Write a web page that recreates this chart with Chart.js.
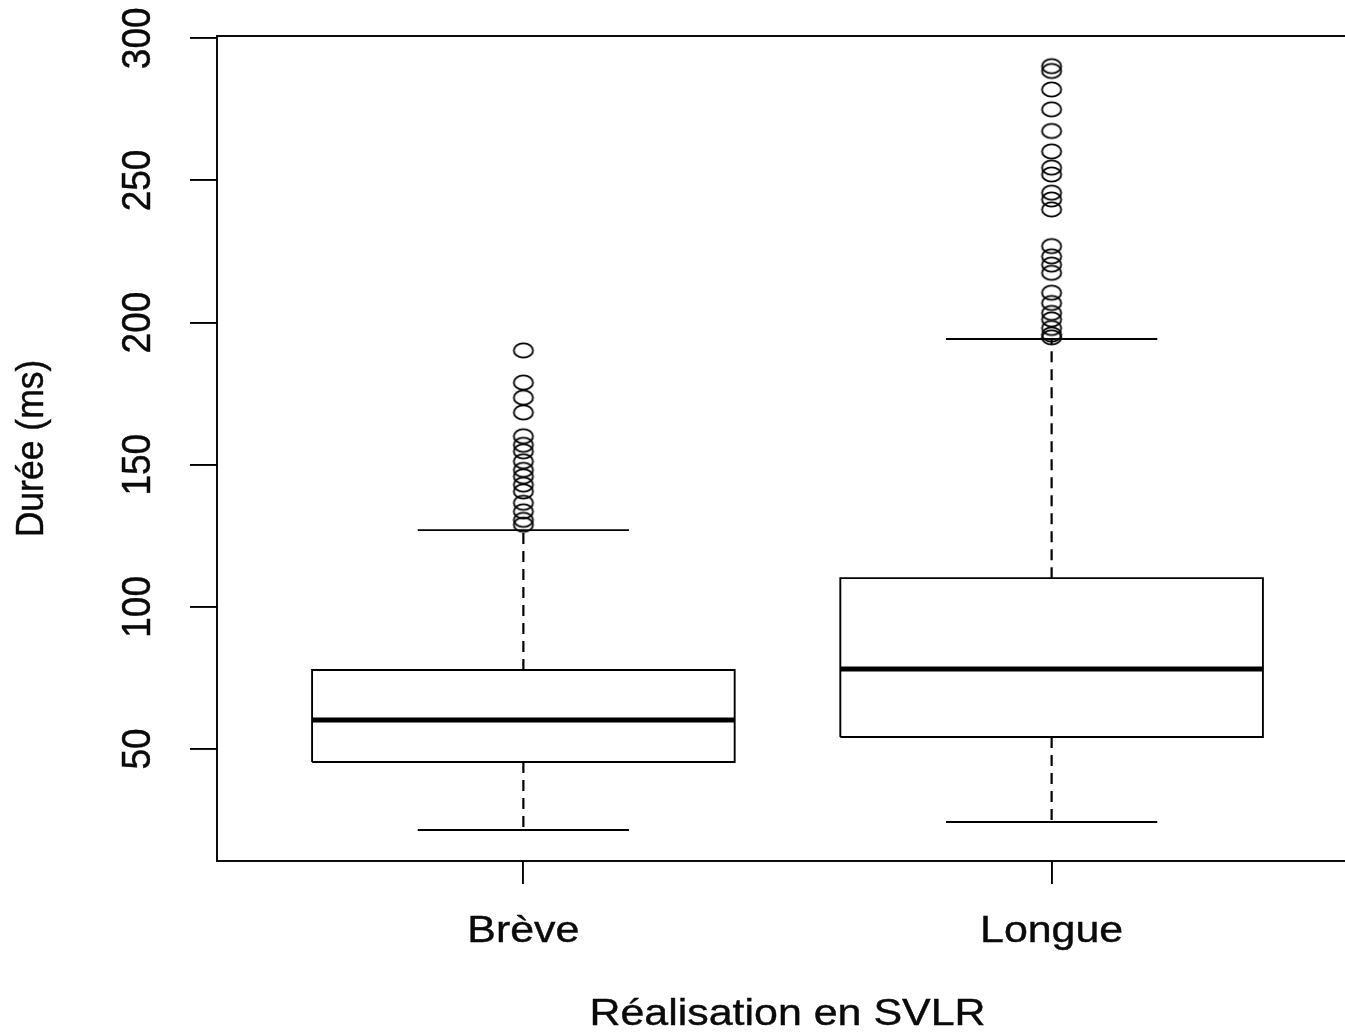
<!DOCTYPE html>
<html>
<head>
<meta charset="utf-8">
<script src="https://cdn.jsdelivr.net/npm/chart.js@4/dist/chart.umd.min.js"></script>
<style>
  html, body { margin: 0; padding: 0; background: #fff; overflow: hidden; }
  #wrap { width: 1400px; height: 1032px; }
</style>
</head>
<body>
<div id="wrap"><canvas id="c" width="1400" height="1032"></canvas></div>
<script>
// ---- data ----
const categories = ['Brève', 'Longue'];
const lowWhisker = [21.5, 24.3];
const q1 = [45.4, 54.2];
const median = [60.2, 78.1];
const q3 = [77.8, 110.1];
const highWhisker = [127.0, 194.2];
const outliersBreve = [190.2, 178.9, 173.6, 168.4, 160.0, 157.0, 154.7, 151.2, 148.2, 145.9, 143.0, 140.6, 136.6, 133.6, 130.6, 128.9];
const outliersLongue = [290.2, 288.5, 282.0, 275.0, 267.4, 260.2, 254.5, 252.1, 245.7, 243.3, 239.8, 226.9, 223.3, 220.4, 217.5, 210.5, 206.9, 203.4, 201.1, 198.1, 195.8, 194.8];
const outliers = [outliersBreve, outliersLongue];
const yTicks = [50, 100, 150, 200, 250, 300];
const xTitle = 'Réalisation en SVLR';
const yTitle = 'Durée (ms)';

// ---- style constants ----
const BOX_HALF = 0.4, CAP_HALF = 0.2;
const INK = '#000';
const TEXT_INK = '#0a0a0a';
const FONT = '37px "Liberation Sans", Arial, sans-serif';
const SX = 1.16;
const LW = 1.9;

// hollow (slightly elliptic) point marker
const marker = document.createElement('canvas');
marker.width = 26; marker.height = 19;
(function () {
  const m = marker.getContext('2d');
  m.strokeStyle = INK; m.lineWidth = 1.8;
  m.beginPath(); m.ellipse(13, 9.5, 9.6, 7.2, 0, 0, Math.PI * 2); m.stroke();
})();

const datasets = [];
categories.forEach((c, i) => {
  const x = i + 1;
  const line = (data, extra) => Object.assign({
    data, showLine: true, borderColor: INK, borderWidth: LW, pointRadius: 0,
    fill: false, tension: 0
  }, extra || {});
  // box
  datasets.push(line([
    {x: x - BOX_HALF, y: q1[i]}, {x: x + BOX_HALF, y: q1[i]},
    {x: x + BOX_HALF, y: q3[i]}, {x: x - BOX_HALF, y: q3[i]},
    {x: x - BOX_HALF, y: q1[i]}
  ]));
  // median
  datasets.push(line([{x: x - BOX_HALF, y: median[i]}, {x: x + BOX_HALF, y: median[i]}], {borderWidth: 5, borderCapStyle: 'butt'}));
  // whiskers (dashed)
  datasets.push(line([{x: x, y: q3[i]}, {x: x, y: highWhisker[i]}], {borderDash: [11, 7], borderWidth: 2.2}));
  datasets.push(line([{x: x, y: q1[i]}, {x: x, y: lowWhisker[i]}], {borderDash: [11, 7], borderWidth: 2.2}));
  // caps
  datasets.push(line([{x: x - CAP_HALF, y: highWhisker[i]}, {x: x + CAP_HALF, y: highWhisker[i]}]));
  datasets.push(line([{x: x - CAP_HALF, y: lowWhisker[i]}, {x: x + CAP_HALF, y: lowWhisker[i]}]));
  // outliers
  datasets.push({
    data: outliers[i].map(v => ({x: x, y: v})),
    showLine: false, pointStyle: marker, pointRadius: 9, borderWidth: 0
  });
});

const framePlugin = {
  id: 'frame',
  beforeDatasetsDraw(chart) {
    const {ctx, chartArea: a} = chart;
    ctx.save();
    ctx.strokeStyle = INK; ctx.lineWidth = LW;
    ctx.strokeRect(a.left, a.top, a.right - a.left, a.bottom - a.top);
    ctx.restore();
  },
  afterDraw(chart) {
    const {ctx, chartArea: a} = chart;
    const xs = chart.scales.x, ys = chart.scales.y;
    ctx.save();
    ctx.fillStyle = TEXT_INK;
    ctx.strokeStyle = TEXT_INK;
    ctx.lineWidth = 0.4;
    ctx.font = FONT;
    const put = (txt) => { ctx.fillText(txt, 0, 0); ctx.strokeText(txt, 0, 0); };
    // x tick labels
    ctx.textAlign = 'center'; ctx.textBaseline = 'alphabetic';
    xs.ticks.forEach(t => {
      const px = xs.getPixelForValue(t.value);
      ctx.save(); ctx.translate(px, 942); ctx.scale(SX, 1);
      put(categories[t.value - 1]); ctx.restore();
    });
    // x title
    ctx.save(); ctx.translate((a.left + a.right) / 2, 1025); ctx.scale(SX, 1);
    put(xTitle); ctx.restore();
    // y tick labels (rotated)
    ctx.textBaseline = 'middle';
    ys.ticks.forEach(t => {
      const py = ys.getPixelForValue(t.value);
      ctx.save(); ctx.translate(139, py); ctx.rotate(-Math.PI / 2); ctx.scale(1, 1.1);
      put(String(t.value)); ctx.restore();
    });
    // y title
    ctx.textBaseline = 'alphabetic';
    ctx.save(); ctx.translate(43, (a.top + a.bottom) / 2); ctx.rotate(-Math.PI / 2); ctx.scale(0.96, 1.05);
    put(yTitle); ctx.restore();
    ctx.restore();
  }
};

new Chart(document.getElementById('c'), {
  type: 'scatter',
  data: {datasets},
  options: {
    responsive: false,
    animation: false,
    events: [],
    layout: {padding: {left: 190, top: 36, right: 42, bottom: 148}},
    plugins: {legend: {display: false}, tooltip: {enabled: false}},
    scales: {
      x: {
        type: 'linear', min: 0.42, max: 2.58,
        afterBuildTicks: axis => { axis.ticks = categories.map((c, i) => ({value: i + 1})); },
        ticks: {display: false},
        grid: {drawOnChartArea: false, drawTicks: true, tickLength: 23, color: INK, lineWidth: LW},
        border: {display: false}
      },
      y: {
        type: 'linear', min: 10.6, max: 300.8,
        afterBuildTicks: axis => { axis.ticks = yTicks.map(v => ({value: v})); },
        ticks: {display: false},
        grid: {drawOnChartArea: false, drawTicks: true, tickLength: 27, color: INK, lineWidth: LW},
        border: {display: false}
      }
    }
  },
  plugins: [framePlugin]
});
</script>
</body>
</html>
